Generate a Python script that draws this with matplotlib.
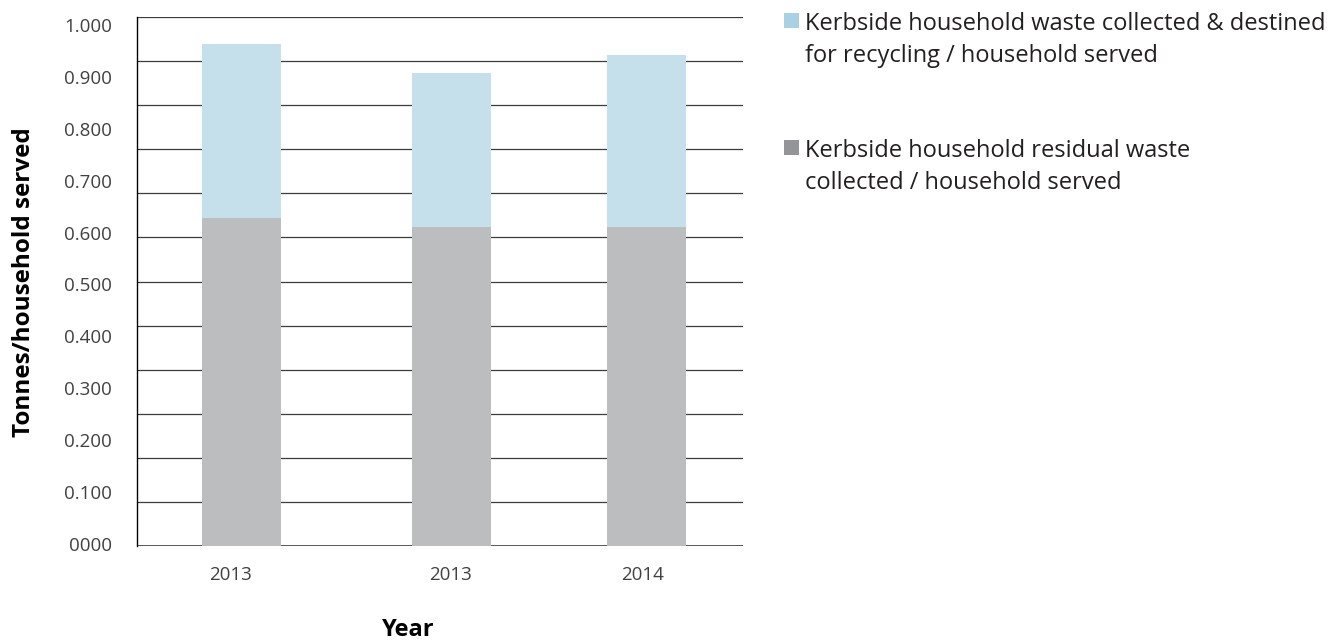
import numpy as np
import matplotlib.pyplot as plt
from matplotlib.patches import Rectangle

# ---- data ----
years = ["2013", "2013", "2014"]
residual = [0.628, 0.611, 0.611]
recycling = [0.335, 0.297, 0.331]
ytick_vals = [0.0, 0.1, 0.2, 0.3, 0.4, 0.5, 0.6, 0.7, 0.8, 0.9, 1.0]
ytick_labels = ["0000", "0.100", "0.200", "0.300", "0.400", "0.500",
                "0.600", "0.700", "0.800", "0.900", "1.000"]
legend_labels = ["Kerbside household waste collected & destined\nfor recycling / household served",
                 "Kerbside household residual waste\ncollected / household served"]

# ---- layout / style ----
W, H = 1331, 640
BLUE = '#c5dfeb'
GREY = '#bcbdbf'
BLUE_KEY = '#a9d1e3'
GREY_KEY = '#939598'
TXT = '#231f20'
TICK = '#414042'
FONT = ['Open Sans', 'DejaVu Sans']

# bar centres in pixel space of the plot area
xpos = [241.5, 451.5, 646.5]
label_x = [230, 451, 643]
bar_w = 79

fig = plt.figure(figsize=(W / 100, H / 100), dpi=100, facecolor='white')
ax = fig.add_axes([137 / W, (H - 546) / H, (743 - 137) / W, (546 - 17) / H])

ylo, yhi = -0.0039, 1.0154
ax.set_xlim(137, 743)
ax.set_ylim(ylo, yhi)

# 12 evenly spaced grid lines, independent of the labels
for g in np.linspace(ylo, yhi, 13)[1:]:
    ax.axhline(g, color='#3c3c3c', lw=0.9, zorder=1)
ax.axhline(ylo, color='#3c3c3c', lw=1.2, zorder=1)

# bars sit on the base line, as in the original artwork
base = ylo - 0.002
ax.bar(xpos, np.array(residual) - base, bottom=base, width=bar_w, color=GREY, zorder=2)
ax.bar(xpos, recycling, bottom=residual, width=bar_w, color=BLUE, zorder=2)

for s in ['top', 'right', 'bottom']:
    ax.spines[s].set_visible(False)
ax.spines['left'].set_color('black')
ax.spines['left'].set_linewidth(1.0)

ax.set_yticks(ytick_vals)
ax.set_yticklabels(ytick_labels, family=FONT, fontsize=13.5, color=TICK)
ax.tick_params(axis='y', length=0, pad=18)
ax.set_xticks([])
for xl, lab in zip(label_x, years):
    ax.text(xl, -0.055, lab, ha='center', va='center', family=FONT,
            fontsize=13.5, color=TICK, transform=ax.get_xaxis_transform())

fig.text(408 / W, 1 - 630 / H, "Year", ha='center', va='center',
         family=FONT, fontsize=17, fontweight='bold', color='black')
fig.text(24 / W, 1 - 282 / H, "Tonnes/household served", ha='center', va='center',
         rotation=90, family=FONT, fontsize=17.5, fontweight='bold', color='black')

# legend drawn by hand
keys = [(BLUE_KEY, 13), (GREY_KEY, 140)]
for (col, top), lab in zip(keys, legend_labels):
    fig.add_artist(Rectangle((784 / W, 1 - (top + 15) / H), 15 / W, 15 / H,
                             transform=fig.transFigure, color=col, lw=0))
    fig.text(805 / W, 1 - (top - 1) / H, lab, ha='left', va='top',
             family=FONT, fontsize=17, color=TXT, linespacing=1.42)

fig.savefig('out.png', dpi=100, facecolor='white')
